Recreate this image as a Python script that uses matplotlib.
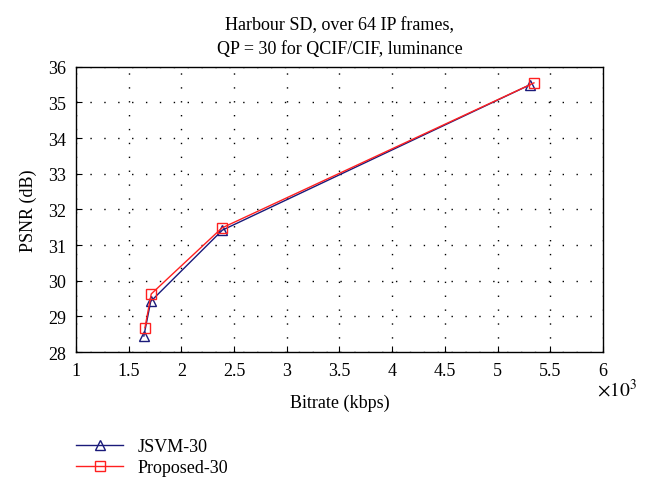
import matplotlib.pyplot as plt

# data (bitrate in 10^3 kbps)
jsvm_rate = [1.645, 1.71, 2.39, 5.31]
jsvm_psnr = [28.45, 29.42, 31.42, 35.5]
prop_rate = [1.655, 1.715, 2.385, 5.345]
prop_psnr = [28.68, 29.63, 31.48, 35.55]

plt.rcParams['font.family'] = ['Liberation Serif', 'DejaVu Serif']
plt.rcParams['mathtext.fontset'] = 'stix'

fig = plt.figure(figsize=(6.54, 4.81), dpi=100)
ax = fig.add_axes([0.116, 0.266, 0.806, 0.593])

ax.plot(jsvm_rate, jsvm_psnr, color='#1a1a7a', lw=1, marker='^', ms=7,
        mfc='none', mec='#1a1a7a', label='JSVM-30')
ax.plot(prop_rate, prop_psnr, color='#ff2020', lw=1, marker='s', ms=7,
        mfc='none', mec='#ff2020', label='Proposed-30')

ax.set_xlim(1, 6)
ax.set_ylim(28, 36)
ax.set_xticks([1, 1.5, 2, 2.5, 3, 3.5, 4, 4.5, 5, 5.5, 6])
ax.set_xticklabels(['1', '1.5', '2', '2.5', '3', '3.5', '4', '4.5', '5', '5.5', '6'])
ax.set_yticks(range(28, 37))
ax.tick_params(direction='in', labelsize=13, length=4, pad=7, top=False, right=False)
ax.grid(True, color='black', linestyle=(0, (1, 9)), linewidth=1)
for s in ax.spines.values():
    s.set_linewidth(1)

ax.set_xlabel('Bitrate (kbps)', fontsize=13, labelpad=11)
ax.set_ylabel('PSNR (dB)', fontsize=13, labelpad=8)
ax.set_title('Harbour SD, over 64 IP frames,\nQP = 30 for QCIF/CIF, luminance',
             fontsize=13, pad=10, linespacing=1.55)
fig.text(0.913, 0.175, r'$\times 10^3$', fontsize=14)

fig.legend(loc='upper left', bbox_to_anchor=(0.1, 0.11), frameon=False,
           fontsize=13, handlelength=2.6, handletextpad=0.8, labelspacing=0.25,
           borderpad=0.1)

fig.savefig('out.png', dpi=100)
